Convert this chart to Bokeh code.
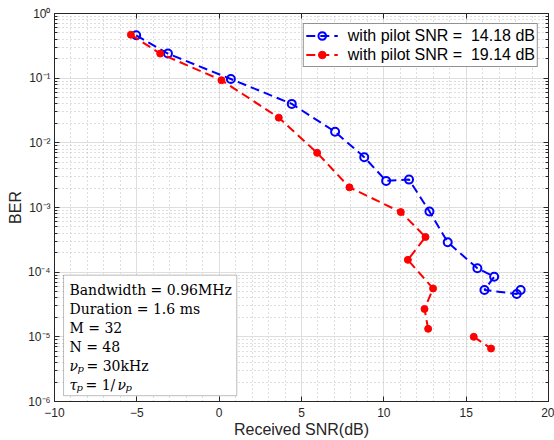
import math
from bokeh.plotting import figure
from bokeh.models import (LogAxis, LinearAxis, SingleIntervalTicker, FixedTicker,
                          CustomJSTickFormatter, BoxAnnotation, Legend, LegendItem)
from bokeh.core.properties import value
from bokeh.embed import file_html
from bokeh.resources import INLINE

NAN = float("nan")

# ---- data ----
blue_snr = [-5.04, -3.11, 0.71, 4.41, 7.04, 8.81, 10.14, 11.53, 12.77, 13.88, 15.68, 16.70, 16.11, 18.07, 18.31]
blue_ber = [0.46, 0.24, 0.097, 0.040, 0.0148, 0.0060, 0.00258, 0.0027, 8.7e-4, 2.9e-4, 1.15e-4, 8.5e-5, 5.3e-5, 4.6e-5, 5.3e-5]
red_snr = [-5.36, -3.58, 0.14, 3.62, 5.95, 7.91, 11.03, 12.53, 11.46, 12.99, 12.47, 12.69, NAN, 15.46, 16.51]
red_ber = [0.47, 0.24, 0.093, 0.0245, 0.0070, 0.00205, 8.5e-4, 3.5e-4, 1.55e-4, 5.6e-5, 2.7e-5, 1.33e-5, NAN, 1.0e-5, 6.6e-6]

legend_labels = ["with pilot SNR = \u00a014.18 dB", "with pilot SNR = \u00a019.14 dB"]
x_label = "Received SNR(dB)"
y_label = "BER"
y_decades = [1e-6, 1e-5, 1e-4, 1e-3, 1e-2, 1e-1, 1e0]
info_lines = ["Bandwidth = 0.96MHz", "Duration = 1.6 ms", "M = 32", "N = 48"]

AX = "#262626"
SANS = "Liberation Sans"
SERIF = "DejaVu Serif"

p = figure(width=554, height=440, x_range=(-10, 20), y_range=(1e-6, 1),
           y_axis_type="log", output_backend="svg", toolbar_location=None,
           min_border_left=54, min_border_right=6, min_border_top=13, min_border_bottom=37,
           background_fill_color="white", border_fill_color="white")
p.outline_line_color = AX

xt = SingleIntervalTicker(interval=5, num_minor_ticks=5)
minor_y = [m * d for d in y_decades[:-1] for m in range(2, 10)]
yt = FixedTicker(ticks=y_decades, minor_ticks=minor_y)

sup_js = """
const s = {"-":"\u207b","0":"\u2070","1":"\u00b9","2":"\u00b2","3":"\u00b3","4":"\u2074","5":"\u2075","6":"\u2076","7":"\u2077","8":"\u2078","9":"\u2079"};
const e = Math.round(Math.log10(tick));
return "10" + String(e).split("").map(c => s[c]).join("");
"""

p.xaxis.ticker = xt
p.yaxis.ticker = yt
p.yaxis.formatter = CustomJSTickFormatter(code=sup_js)

for ax in (p.xaxis, p.yaxis):
    ax.axis_line_color = AX
    ax.major_tick_line_color = AX
    ax.minor_tick_line_color = AX
    ax.major_tick_in = 5
    ax.major_tick_out = 0
    ax.minor_tick_in = 3
    ax.minor_tick_out = 0
    ax.major_label_text_font = SANS
    ax.major_label_text_font_size = "12px"
    ax.major_label_text_color = AX
    ax.axis_label_text_font = SANS
    ax.axis_label_text_font_size = "16px"
    ax.axis_label_text_font_style = "normal"
    ax.axis_label_text_color = AX
p.xaxis.minor_tick_line_color = None
p.xaxis.major_label_standoff = 6
p.yaxis.major_label_standoff = 4
p.xaxis.axis_label = x_label
p.yaxis.axis_label = y_label
p.xaxis.axis_label_standoff = 1
p.yaxis.axis_label_standoff = 1

# mirrored axes (box style), without labels
blank = CustomJSTickFormatter(code="return '';")
top = LinearAxis(ticker=xt, formatter=blank, major_label_standoff=0,
                 major_label_text_font_size="1px",
                 axis_line_color=AX, major_tick_line_color=AX, major_tick_in=5,
                 major_tick_out=0, minor_tick_line_color=None)
right = LogAxis(ticker=yt, formatter=blank, major_label_standoff=0,
                major_label_text_font_size="1px",
                axis_line_color=AX, major_tick_line_color=AX, minor_tick_line_color=AX,
                major_tick_in=5, major_tick_out=0, minor_tick_in=3, minor_tick_out=0)
p.add_layout(top, "above")
p.add_layout(right, "right")

# grids
p.grid.grid_line_color = "#dedede"
p.grid.grid_line_width = 1
p.grid.minor_grid_line_color = "#bdbdbd"
p.grid.minor_grid_line_dash = "1 3"
p.grid.minor_grid_line_width = 1

# series
bl = p.line(blue_snr, blue_ber, line_color="#0000ff", line_width=2, line_dash="9 5")
bs = p.scatter(blue_snr, blue_ber, marker="circle", size=8, fill_color=None,
               line_color="#0000ff", line_width=2)
rl = p.line(red_snr, red_ber, line_color="#ff0000", line_width=2, line_dash="9 5")
rs = p.scatter(red_snr, red_ber, marker="circle", size=7, fill_color="#ff0000",
               line_color="#ff0000", line_width=1)

legend = Legend(items=[LegendItem(label=legend_labels[0], renderers=[bl, bs]),
                       LegendItem(label=legend_labels[1], renderers=[rl, rs])],
                location="top_right", margin=10, padding=2, spacing=0,
                glyph_width=32, glyph_height=19, label_height=19, label_standoff=10,
                label_text_font=SANS, label_text_font_size="16px", label_text_color="black",
                border_line_color=AX, border_line_width=1,
                background_fill_color="white", background_fill_alpha=1)
p.add_layout(legend)

# info box
box = BoxAnnotation(left=-9.45, right=1.07, bottom=1.23e-6, top=9.0e-5,
                    fill_color="white", fill_alpha=1, line_color=AX, line_width=1)
p.add_layout(box)

x0 = -9.09
y_first = 5.28e-5
step = 10 ** (-19.0 / 65.0)
ys = [y_first * step ** i for i in range(6)]

t1 = p.text(x=[x0] * 4, y=ys[:4], text=info_lines, text_font=value(SERIF),
            text_font_size="14px", text_color="black", text_baseline="alphabetic",
            text_align="left")
t1.level = "overlay"

def piece(y, txt, dx, dy=0, size="14px", style="normal"):
    r = p.text(x=[x0], y=[y], text=[txt], x_offset=dx, y_offset=dy,
               text_font=value(SERIF), text_font_size=size, text_font_style=style,
               text_color="black", text_baseline="alphabetic", text_align="left")
    r.level = "overlay"

# nu_p = 30kHz
piece(ys[4], "\u03bd", 0, style="italic")
piece(ys[4], "p", 8, dy=3, size="10px", style="italic")
piece(ys[4], "= 30kHz", 17)
# tau_p = 1/nu_p
piece(ys[5], "\u03c4", 0, style="italic")
piece(ys[5], "p", 7, dy=3, size="10px", style="italic")
piece(ys[5], "= 1/", 16)
piece(ys[5], "\u03bd", 48, style="italic")
piece(ys[5], "p", 56, dy=3, size="10px", style="italic")

open("out.html", "w").write(file_html(p, INLINE))
